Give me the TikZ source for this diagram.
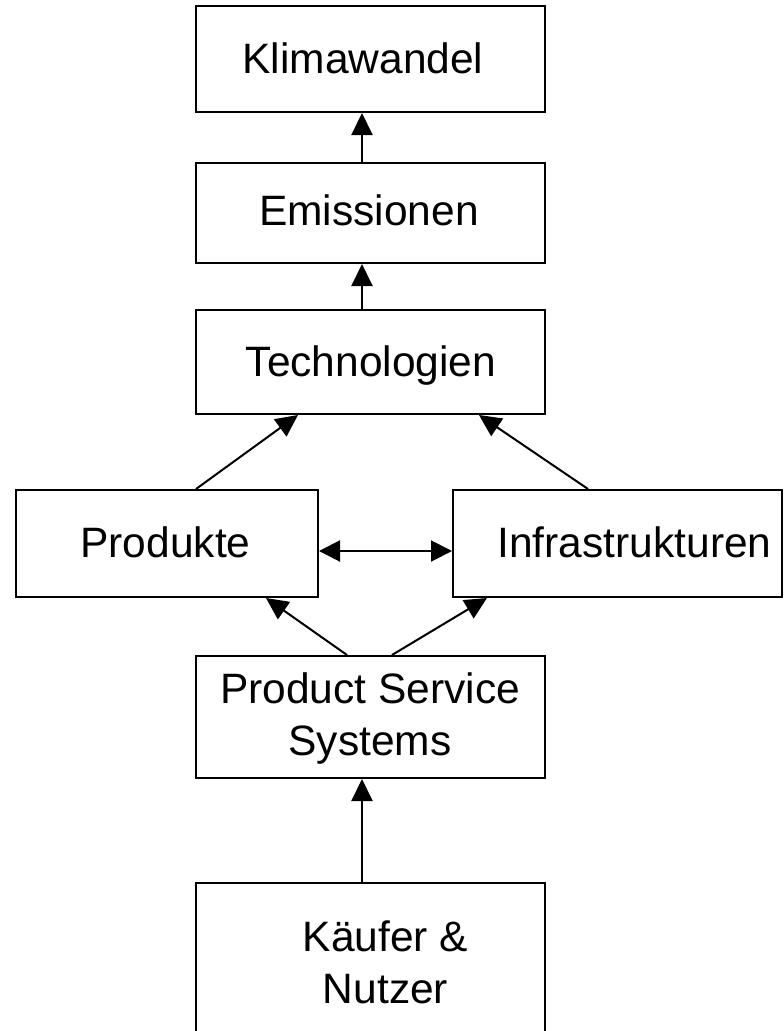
\documentclass[tikz,border=0pt]{standalone}
\usepackage{fontspec}
\setmainfont{Liberation Sans}
\usetikzlibrary{arrows.meta,calc}
\begin{document}
\begin{tikzpicture}[x=1pt,y=-1pt,
  box/.style={draw,line width=2pt,inner sep=0pt},
  lbl/.style={inner sep=0pt,font=\fontsize{42.5}{52}\selectfont,align=center},
  arr/.style={line width=2pt,-{Triangle[length=22pt,width=21pt]}},
  darr/.style={line width=2pt,{Triangle[length=21pt,width=21pt]}-{Triangle[length=21pt,width=21pt]}}]
  % page frame
  \useasboundingbox (0,0) rectangle (784,1031);
  \fill[white] (0,0) rectangle (784,1031);

  % boxes
  \node[box,minimum width=349pt,minimum height=106pt] (K) at (370.5,59) {};
  \node[box,minimum width=349pt,minimum height=100pt] (E) at (370.5,213) {};
  \node[box,minimum width=349pt,minimum height=104pt] (T) at (370.5,362) {};
  \node[box,minimum width=302pt,minimum height=107pt] (P) at (167,543.5) {};
  \node[box,minimum width=329pt,minimum height=107pt] (I) at (617.5,543.5) {};
  \node[box,minimum width=349pt,minimum height=122pt] (S) at (370.5,717) {};
  \node[box,minimum width=349pt,minimum height=170pt] (N) at (370.5,968) {};

  % labels
  \node[lbl,anchor=base] (tK) at (363,73) {Klimawandel};
  \node[lbl,anchor=base] (tE) at (369,225) {Emissionen};
  \node[lbl,anchor=base] (tT) at (371,376) {Technologien};
  \node[lbl,anchor=base] (tP) at (165.5,557) {Produkte};
  \node[lbl,anchor=base] (tI) at (634.5,557) {Infrastrukturen};
  \node[lbl] (tS) at (370,719) {Product Service\\Systems};
  \node[lbl] (tN) at (385.5,962) {Käufer \&\\Nutzer};

  % connectors
  \draw[arr] ($(E.north west)+(167,0)$) -- ($(K.south west)+(167,0)$);
  \draw[arr] ($(T.north west)+(167,0)$) -- ($(E.south west)+(167,0)$);
  \draw[arr] ($(P.north west)+(181,0)$) -- ($(T.south west)+(103,0)$);
  \draw[arr] ($(I.north west)+(136,0)$) -- ($(T.south west)+(284,0)$);
  \draw[darr] ($(P.east)+(0,7.5)$) -- ($(I.west)+(0,7.5)$);
  \draw[arr] ($(S.north west)+(152,0)$) -- ($(P.south west)+(251,0)$);
  \draw[arr] ($(S.north west)+(197,0)$) -- ($(I.south west)+(35,0)$);
  \draw[arr] ($(N.north west)+(167,0)$) -- ($(S.south west)+(167,0)$);
\end{tikzpicture}
\end{document}
